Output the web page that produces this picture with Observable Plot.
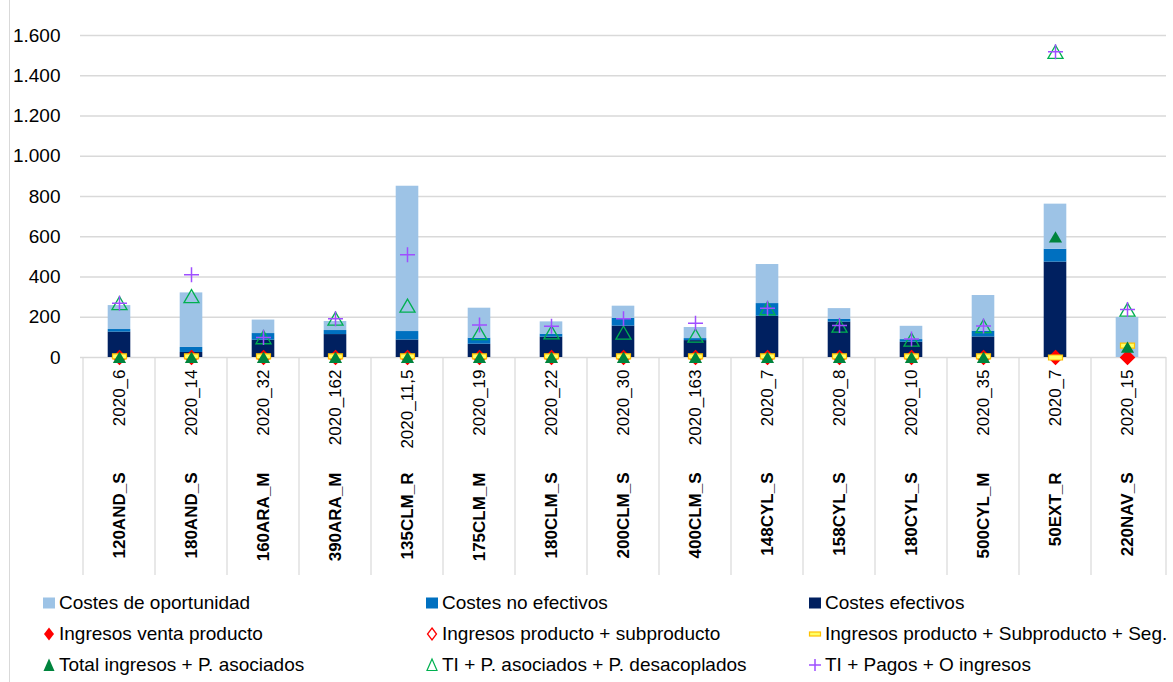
<!DOCTYPE html>
<html><head><meta charset="utf-8">
<script src="https://cdn.jsdelivr.net/npm/d3@7"></script>
<script src="https://cdn.jsdelivr.net/npm/@observablehq/plot@0.6"></script>
<style>
body{margin:0;background:#fff;font-family:"Liberation Sans",Arial,sans-serif;}
#wrap{position:relative;width:1173px;height:682px;overflow:hidden;background:#fff;}
#chart{position:absolute;left:0;top:0;}
#border{position:absolute;left:9px;top:0;width:1px;height:682px;background:#D9D9D9;}
#legend{position:absolute;left:0;top:585px;width:1173px;height:97px;}
.li{position:absolute;display:flex;align-items:center;height:22px;font-size:19px;color:#000;white-space:nowrap;}
.li svg{margin-right:2px;flex:none}
</style></head><body>
<div id="wrap"><div id="chart"></div><div id="border"></div><div id="legend"></div></div>
<script>
// ---- data ----
const sites = ["120AND_S","180AND_S","160ARA_M","390ARA_M","135CLM_R","175CLM_M","180CLM_S","200CLM_S","400CLM_S","148CYL_S","158CYL_S","180CYL_S","500CYL_M","50EXT_R","220NAV_S"];
const campaigns = ["2020_6","2020_14","2020_32","2020_162","2020_11,5","2020_19","2020_22","2020_30","2020_163","2020_7","2020_8","2020_10","2020_35","2020_7","2020_15"];

const costesEfectivos   = [126, 25, 86, 114, 87, 66, 101, 156, 84, 205, 176, 76, 102, 474, 0];
const costesNoEfectivos = [13, 25, 33, 20, 42, 30, 15, 38, 10, 63, 13, 13, 29, 64, 0];
const costesOportunidad = [119, 271, 67, 45, 722, 149, 61, 61, 55, 194, 54, 66, 177, 224, 199];

const ingresosVenta         = [0,0,0,0,0,0,0,0,0,0,0,0,0,0,0];
const ingresosProdSubprod   = [0,0,0,0,0,0,0,0,0,0,0,0,0,0,0];
const ingresosProdSubSeg    = [6,6,6,6,6,6,6,6,6,6,6,6,6,0,59];
const totalIngresosPA       = [2,2,2,2,2,2,2,2,2,2,2,2,2,600,52];
const tiPAsocPDesac         = [270, 305, 101, 193, 258, 121, 125, 124, 109, 245, 159, 89, 156, 1519, 238];
const tiPagosOIngresos      = [270, 411, 100, 193, 510, 162, 155, 192, 170, 245, 159, 92, 157, 1519, 238];

const yTicks = [0, 200, 400, 600, 800, 1000, 1200, 1400, 1600];

const barSeries = ["Costes efectivos", "Costes no efectivos", "Costes de oportunidad"];
const barColors = ["#002060", "#0070C0", "#9DC3E6"];

const legendNames = [
  "Costes de oportunidad", "Costes no efectivos", "Costes efectivos",
  "Ingresos venta producto", "Ingresos producto + subproducto", "Ingresos producto + Subproducto + Seg.",
  "Total ingresos + P. asociados", "TI + P. asociados + P. desacoplados", "TI + Pagos + O ingresos"
];

// ---- build ----
const locale = d3.formatLocale({decimal: ",", thousands: ".", grouping: [3], currency: ["", " €"]});
const fmt = locale.format(",d");

const rows = [];
sites.forEach((s, i) => {
  rows.push({site: s, serie: barSeries[0], v: costesEfectivos[i]});
  rows.push({site: s, serie: barSeries[1], v: costesNoEfectivos[i]});
  rows.push({site: s, serie: barSeries[2], v: costesOportunidad[i]});
});
const pts = (arr) => sites.map((s, i) => ({site: s, v: arr[i]}));

const dashSymbol = {draw(ctx, size) { const w = 7, h = 2.5;
  ctx.moveTo(-w, -h); ctx.lineTo(w, -h); ctx.lineTo(w, h); ctx.lineTo(-w, h); ctx.closePath(); }};

const dividers = (index, scales, values, dims) => {
  const g = d3.create("svg:g");
  const xEnd = dims.width - dims.marginRight;
  const bottom = dims.height - dims.marginBottom;
  const xs = sites.map(s => scales.x(s)); xs.push(xEnd);
  for (const x of xs) g.append("line").attr("x1", x).attr("x2", x)
    .attr("y1", bottom).attr("y2", bottom + 218).attr("stroke", "#D9D9D9").attr("stroke-width", 1.2);
  return g.node();
};

const chart = Plot.plot({
  width: 1173, height: 585,
  marginLeft: 80, marginRight: 7, marginTop: 35, marginBottom: 228,
  x: {domain: sites, padding: 0, axis: null},
  y: {domain: [0, 1600], axis: null},
  color: {domain: barSeries, range: barColors},
  style: {fontFamily: "Liberation Sans, Arial, sans-serif", fontSize: "17px", color: "#000", background: "white", overflow: "visible"},
  marks: [
    Plot.ruleY(yTicks, {stroke: "#D9D9D9", strokeWidth: 1.3}),
    Plot.text(yTicks, {y: d => d, text: d => fmt(d), frameAnchor: "left", dx: -20, textAnchor: "end", fontSize: 19, fill: "#000"}),
    Plot.barY(rows, {x: "site", y: "v", fill: "serie", insetLeft: 24.7, insetRight: 24.7}),
    dividers,
    Plot.text(sites, {x: d => d, text: (d, i) => campaigns[i], frameAnchor: "bottom", dy: 12, rotate: -90, textAnchor: "end", lineAnchor: "middle", fontSize: 17, fill: "#000"}),
    Plot.text(sites, {x: d => d, text: d => d, frameAnchor: "bottom", dy: 115, rotate: -90, textAnchor: "end", lineAnchor: "middle", fontSize: 17, fontWeight: "bold", fill: "#000"}),
    Plot.dot(pts(ingresosProdSubprod), {x: "site", y: "v", symbol: "diamond2", r: 6.3, stroke: "#FF0000", fill: "none", strokeWidth: 1.2}),
    Plot.dot(pts(ingresosVenta), {x: "site", y: "v", symbol: "diamond2", r: 6.3, fill: "#FF0000", stroke: "none"}),
    Plot.dot(pts(ingresosProdSubSeg), {x: "site", y: "v", symbol: dashSymbol, r: 5, fill: "#FFFF66", stroke: "#FFC000", strokeWidth: 1.2}),
    Plot.dot(pts(totalIngresosPA), {x: "site", y: "v", symbol: "triangle", r: 4.9, fill: "#00843D", stroke: "none", dy: 2}),
    Plot.dot(pts(tiPAsocPDesac), {x: "site", y: "v", symbol: "triangle2", r: 7.2, fill: "none", stroke: "#00B050", strokeWidth: 1.3, dy: 2.2}),
    Plot.dot(pts(tiPagosOIngresos), {x: "site", y: "v", symbol: "plus", r: 4.9, fill: "none", stroke: "#9F4FFF", strokeWidth: 1.5})
  ]
});
document.getElementById("chart").appendChild(chart);

// ---- legend ----
const glyphs = [
  `<rect x="2" y="5.5" width="12" height="11" fill="#9DC3E6"/>`,
  `<rect x="2" y="5.5" width="12" height="11" fill="#0070C0"/>`,
  `<rect x="2" y="5.5" width="12" height="11" fill="#002060"/>`,
  `<path d="M8,4.5L13,11L8,17.5L3,11Z" fill="#FF0000"/>`,
  `<path d="M8,5L12.5,11L8,17L3.5,11Z" fill="none" stroke="#FF0000" stroke-width="1.3"/>`,
  `<rect x="2.5" y="9" width="11" height="4" fill="#FFFF66" stroke="#FFC000" stroke-width="1.2"/>`,
  `<path d="M8,4.5L13.5,17L2.5,17Z" fill="#00843D"/>`,
  `<path d="M8,5L13,16.5L3,16.5Z" fill="none" stroke="#00B050" stroke-width="1.2"/>`,
  `<path d="M8,5V17M2,11H14" fill="none" stroke="#9F4FFF" stroke-width="1.5"/>`
];
const colX = [41, 424, 807];
const rowY = [7, 38, 69];
const legend = document.getElementById("legend");
legendNames.forEach((name, i) => {
  const d = document.createElement("div");
  d.className = "li";
  d.style.left = colX[i % 3] + "px";
  d.style.top = rowY[Math.floor(i / 3)] + "px";
  d.innerHTML = `<svg width="16" height="22" viewBox="0 0 16 22">${glyphs[i]}</svg><span>${name}</span>`;
  legend.appendChild(d);
});
</script>
</body></html>
